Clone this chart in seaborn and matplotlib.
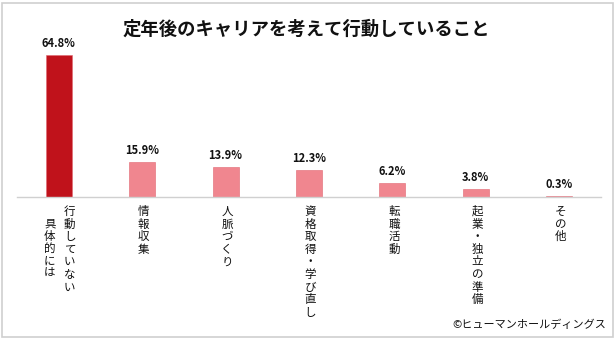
import matplotlib
matplotlib.use("Agg")
import matplotlib.pyplot as plt
import seaborn as sns
import pandas as pd
from matplotlib.patches import Rectangle

categories = ["具体的には行動していない", "情報収集", "人脈づくり", "資格取得・学び直し",
              "転職活動", "起業・独立の準備", "その他"]
values = [64.8, 15.9, 13.9, 12.3, 6.2, 3.8, 0.3]
value_labels = ["64.8%", "15.9%", "13.9%", "12.3%", "6.2%", "3.8%", "0.3%"]
# vertical label columns per category (right column first)
label_columns = [["行動していない", "具体的には"], ["情報収集"], ["人脈づくり"],
                 ["資格取得・学び直し"], ["転職活動"], ["起業・独立の準備"], ["その他"]]
colors = ["#C0121B"] + ["#F0868F"] * 6
title = "定年後のキャリアを考えて行動していること"
credit = "©ヒューマンホールディングス"

sns.set_theme(style="white")
plt.rcParams["font.family"] = ["Noto Sans CJK JP", "DejaVu Sans"]

W, H = 616, 338
fig = plt.figure(figsize=(W / 100, H / 100), dpi=100)
fig.patch.set_facecolor("white")
ax = fig.add_axes([17 / W, (H - 197) / H, 584 / W, 153 / H])

df = pd.DataFrame({"cat": categories, "val": values})
sns.barplot(data=df, x="cat", y="val", hue="cat", palette=colors, legend=False,
            width=0.31, ax=ax, saturation=1, edgecolor="#E06670", linewidth=0.4)
ax.set_ylim(0, 70)
ax.set_xlim(-0.5, len(categories) - 0.5)
ax.set_xlabel("")
ax.set_ylabel("")
ax.set_yticks([])
ax.set_xticks(range(len(categories)))
ax.set_xticklabels([])
ax.tick_params(axis="x", length=0)
for s in ["top", "right", "left"]:
    ax.spines[s].set_visible(False)
ax.spines["bottom"].set_color("#D0D0D0")
ax.spines["bottom"].set_linewidth(1.0)

# value labels
for i, (v, lab) in enumerate(zip(values, value_labels)):
    ax.annotate(lab, xy=(i, v), xytext=(0, 5), textcoords="offset pixels",
                ha="center", va="bottom", fontsize=8, fontweight="bold", color="#111111")

# vertical category labels
pitch = 12.6
for i, cols in enumerate(label_columns):
    if len(cols) == 2:
        offsets = [(11, 8), (-9, 20)]
    else:
        offsets = [(1.5, 8)]
    for col, (dx, dy0) in zip(cols, offsets):
        for k, ch in enumerate(col):
            ax.annotate(ch, xy=(i, 0), xycoords=("data", "axes fraction"),
                        xytext=(dx, -(dy0 + k * pitch)), textcoords="offset pixels",
                        ha="center", va="top", fontsize=8.3, color="#111111")

fig.text(306 / W, 1 - 29 / H, title, ha="center", va="center",
         fontsize=13.2, fontweight="bold", color="#111111")
fig.text(606 / W, 1 - 325 / H, credit, ha="right", va="center",
         fontsize=8, color="#111111")

fig.patches.append(Rectangle((2 / W, 1 / H), (W - 5) / W, (H - 4) / H,
                             transform=fig.transFigure, fill=False,
                             edgecolor="#CFCFCF", linewidth=1.2))

fig.savefig("out.png", dpi=100)
